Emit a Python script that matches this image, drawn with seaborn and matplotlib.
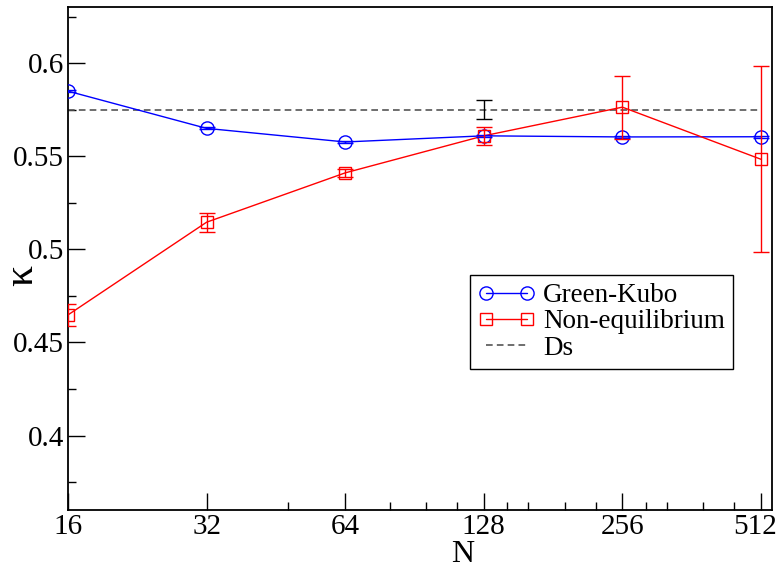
import matplotlib
matplotlib.use("Agg")
import matplotlib.pyplot as plt
import seaborn as sns
import numpy as np
import pandas as pd
from matplotlib.ticker import FixedLocator, NullFormatter
from matplotlib.transforms import ScaledTranslation

# ---- data ----
N_values = [16, 32, 64, 128, 256, 512]
tick_labels = ["16", "32", "64", "128", "256", "512"]
green_kubo = [0.585, 0.565, 0.5577, 0.561, 0.5604, 0.5605]
green_kubo_err = [0.0005, 0.0005, 0.0005, 0.0005, 0.0005, 0.0005]
non_equilibrium = [0.4648, 0.5146, 0.5411, 0.561, 0.5764, 0.5484]
non_equilibrium_err = [0.006, 0.005, 0.002, 0.005, 0.017, 0.05]
ds_value = 0.575
ds_err = 0.005
ds_err_x = 128
ds_span = [16, 512]

sns.set_style("ticks")
plt.rcParams['font.family'] = ['Liberation Serif', 'DejaVu Serif']
for k in ["text.color", "axes.labelcolor", "xtick.color", "ytick.color", "axes.edgecolor"]:
    plt.rcParams[k] = "black"

fig = plt.figure(figsize=(7.77, 5.73), dpi=100)
ax = fig.add_axes([68 / 777, 1 - 510 / 573, (772 - 68) / 777, (510 - 7) / 573])

blue = "#0000ff"
red = "#ff0000"

df_gk = pd.DataFrame({"N": N_values, "kappa": green_kubo})
df_ne = pd.DataFrame({"N": N_values, "kappa": non_equilibrium})
df_ds = pd.DataFrame({"N": ds_span, "kappa": [ds_value] * len(ds_span)})

sns.lineplot(data=df_ds, x="N", y="kappa", ax=ax, color="#555555",
             linestyle=(0, (4, 2.5)), linewidth=1.2, label="Ds", zorder=2)
sns.lineplot(data=df_gk, x="N", y="kappa", ax=ax, color=blue, linewidth=1.0,
             marker="o", markersize=9.5, markerfacecolor="none",
             markeredgecolor=blue, markeredgewidth=1.0, label="Green-Kubo", zorder=3)
sns.lineplot(data=df_ne, x="N", y="kappa", ax=ax, color=red, linewidth=1.0,
             marker="s", markersize=8.5, markerfacecolor="none",
             markeredgecolor=red, markeredgewidth=1.0, label="Non-equilibrium", zorder=3)

ax.errorbar(N_values, green_kubo, yerr=green_kubo_err, fmt="none", ecolor=blue,
            elinewidth=1.0, capsize=6, capthick=1.0, zorder=3)
ax.errorbar(N_values, non_equilibrium, yerr=non_equilibrium_err, fmt="none", ecolor=red,
            elinewidth=1.0, capsize=6, capthick=1.0, zorder=3)
ax.errorbar([ds_err_x], [ds_value], yerr=[ds_err], fmt="none", ecolor="black",
            elinewidth=1.0, capsize=6, capthick=1.0, zorder=3)

ax.set_xscale("log", base=2)
ax.set_xlim(16, 16 * 2 ** ((772 - 68) / 138.6))
ax.set_ylim(0.36, 0.6302)

ax.xaxis.set_major_locator(FixedLocator(N_values))
ax.set_xticklabels(tick_labels)
ax.xaxis.set_minor_locator(FixedLocator([48, 80, 96, 112, 144, 160, 192, 224, 288, 320, 384, 448]))
ax.xaxis.set_minor_formatter(NullFormatter())
ax.set_yticks([0.4, 0.45, 0.5, 0.55, 0.6])
ax.set_yticklabels(["0.4", "0.45", "0.5", "0.55", "0.6"])
ax.yaxis.set_minor_locator(FixedLocator([0.375, 0.425, 0.475, 0.525, 0.575, 0.625]))

ax.tick_params(axis="x", which="major", direction="in", length=12, width=1.0,
               labelsize=21, top=False, right=False, pad=3)
ax.tick_params(axis="y", which="major", direction="in", length=12, width=1.0,
               labelsize=21, top=False, right=False, pad=3)
ax.tick_params(axis="both", which="minor", direction="in", length=6, width=1.0,
               top=False, right=False)
for s in ax.spines.values():
    s.set_visible(True)
    s.set_linewidth(1.3)
    s.set_color("black")

# nudge last x tick label so it stays inside the figure
last = ax.get_xticklabels()[-1]
last.set_transform(last.get_transform() + ScaledTranslation(-6 / 100, 0, fig.dpi_scale_trans))

ax.set_xlabel("N", fontsize=23)
ax.xaxis.set_label_coords((463 - 68) / 704, (510 - 540) / 503)
ax.set_ylabel("κ", fontsize=30)
ax.yaxis.set_label_coords((41 - 68) / 704, (510 - 275) / 503)

handles, labels = ax.get_legend_handles_labels()
order = [labels.index(l) for l in ["Green-Kubo", "Non-equilibrium", "Ds"]]
leg = ax.legend([handles[i] for i in order], [labels[i] for i in order],
                loc="upper left", bbox_to_anchor=(470 / 777, 1 - 275 / 573),
                bbox_transform=fig.transFigure, borderaxespad=0, fontsize=19.5,
                frameon=True, fancybox=False, framealpha=1, edgecolor="black",
                numpoints=2, handlelength=2.1, handletextpad=0.3,
                labelspacing=0.05, borderpad=0.3)
leg.get_frame().set_linewidth(1.0)

fig.savefig("out.png", dpi=100)
